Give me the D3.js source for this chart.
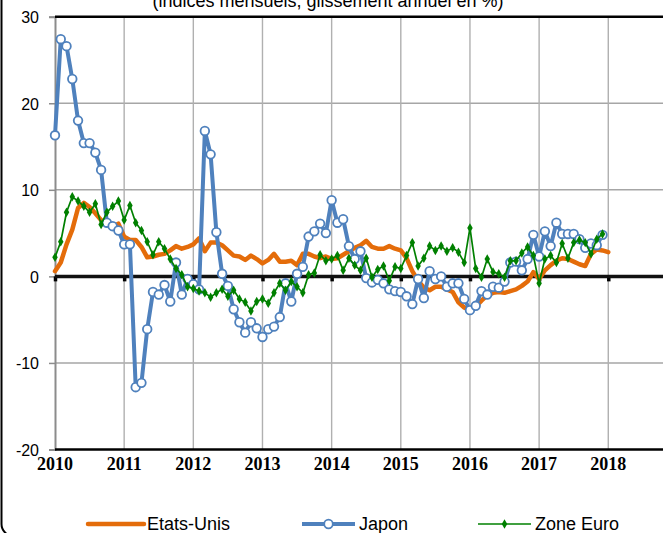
<!DOCTYPE html>
<html>
<head>
<meta charset="utf-8">
<script src="https://cdn.jsdelivr.net/npm/d3@7"></script>
<style>
  body { margin:0; background:#fff; }
  svg { display:block; }
</style>
</head>
<body>
<svg id="chart"></svg>
<script>
// valeurs mensuelles (glissement annuel en %), depuis janvier 2010
var etatsUnis = [
  0.6, 1.6, 3.7, 5.4, 7.9, 8.5, 8.0, 7.3, 6.5, 6.0, 5.7, 6.1,
  4.6, 4.2, 4.2, 3.4, 2.2, 2.3, 2.5, 2.6, 3.0, 3.5, 3.2, 3.4,
  3.7, 4.4, 2.9, 3.9, 3.9, 3.6, 3.0, 2.4, 2.3, 1.9, 2.4, 2.0,
  1.5, 1.9, 2.6, 1.7, 1.7, 1.8, 1.3, 2.6, 2.6, 2.3, 2.1, 2.3,
  2.0, 2.1, 2.5, 2.9, 3.3, 3.6, 4.1, 3.4, 3.2, 3.2, 3.5, 3.2,
  3.0, 2.1, 0.6, -0.5, -1.3, -1.6, -1.2, -1.2, -1.5, -1.8, -3.0, -3.6,
  -3.8, -3.5, -2.8, -2.2, -1.9, -1.8, -1.9, -1.7, -1.5, -1.1, -0.6, 0.5,
  -0.3, 0.7, 1.3, 1.8, 2.1, 2.0, 1.7, 1.4, 1.2, 2.6, 3.1, 3.0,
  2.8
];
var japon = [
  16.3, 27.4, 26.6, 22.8, 18.0, 15.4, 15.4, 14.3, 12.3, 6.2, 5.8, 5.3,
  3.7, 3.7, -12.8, -12.3, -6.1, -1.8, -2.1, -1.0, -2.9, 1.6, -2.1, -0.3,
  -0.9, -1.5, 16.8, 14.1, 5.1, 0.3, -1.1, -3.8, -5.3, -6.5, -5.3, -6.0,
  -7.0, -6.1, -5.8, -4.7, -0.8, -2.9, 0.3, 1.1, 4.6, 5.2, 6.1, 5.0,
  8.8, 6.2, 6.6, 3.5, 2.0, 2.9, -0.2, -0.7, -0.4, -0.8, -1.5, -1.7,
  -1.8, -2.3, -3.2, -0.3, -2.5, 0.6, -0.3, 0.0, -1.2, -0.8, -0.8, -2.6,
  -3.9, -3.4, -1.7, -2.1, -1.2, -1.3, -0.6, 1.6, 1.7, 0.7, 2.0, 4.8,
  2.3, 5.2, 3.5, 6.2, 4.9, 4.9, 4.9, 4.3, 3.3, 3.8, 3.6, 4.8
];
var zoneEuro = [
  2.2, 4.0, 7.4, 9.2, 8.7, 8.1, 7.4, 8.4, 6.0, 7.4, 8.1, 8.7,
  6.5, 8.2, 6.2, 5.3, 4.0, 2.5, 4.0, 3.2, 2.0, 0.9, 0.2, -1.2,
  -1.4, -1.7, -1.9, -2.4, -1.9, -1.5, -2.3, -1.6, -2.6, -3.0, -4.0, -2.9,
  -2.6, -3.1, -1.9, -0.8, -1.6, -0.6, -1.2, -1.9, 0.2, 0.4, 2.5, 1.8,
  2.0, 2.4, 0.7, 2.1, 1.3, 0.7, 2.1, -0.1, 0.8, 1.2, -0.5, 1.1,
  0.9, 2.4, 3.9, 1.2, 2.1, 3.5, 3.0, 3.5, 2.9, 3.3, 2.8, 1.6,
  5.6, 0.9, -0.1, 2.0, 0.5, 0.3, -0.1, 1.8, 1.8, 2.7, 3.4, 2.4,
  -0.8, 2.0, 2.4, 1.6, 3.8, 2.1, 3.9, 4.2, 3.9, 2.6, 4.3, 4.9
];
var annees = [2010, 2011, 2012, 2013, 2014, 2015, 2016, 2017, 2018];
var yTicks = [-20, -10, 0, 10, 20, 30];
var series = ["Etats-Unis", "Japon", "Zone Euro"];
var titre = "(indices mensuels, glissement annuel en %)";

var couleurs = {"Etats-Unis":"#E46C0A", "Japon":"#4F81BD", "Zone Euro":"#008000"};

var screen = {width:663, height:533};

var svg = d3.select("#chart")
    .attr("width", screen.width)
    .attr("height", screen.height)
    .style("font-family", "Arial, 'Liberation Sans', sans-serif");

// cadre du graphique (coin arrondi visible en bas a gauche)
svg.append("rect")
    .attr("x", 1.5).attr("y", -30)
    .attr("width", 720).attr("height", 566)
    .attr("rx", 12)
    .style("fill", "none")
    .style("stroke", "#000")
    .style("stroke-width", 2);

var xScale = d3.scaleLinear()
    .domain([2010, 2019])
    .range([55, 55 + 9 * 69.16]);

var yScale = d3.scaleLinear()
    .domain([-20, 30])
    .range([449.5, 16.7]);

var moisX = function(d, i) { return xScale(2010 + i / 12); };

// titre (coupe en haut, comme l'original)
svg.append("text")
    .attr("x", 328).attr("y", 7)
    .attr("text-anchor", "middle")
    .style("font-size", "18px")
    .text(titre);

// grille horizontale
svg.append("g")
    .selectAll("line")
    .data(yTicks.filter(function(d){ return d != 0 && d != 30 && d != -20; }))
    .enter()
    .append("line")
    .attr("x1", xScale(2010)).attr("x2", screen.width + 20)
    .attr("y1", function(d){ return yScale(d); })
    .attr("y2", function(d){ return yScale(d); })
    .style("stroke", "#a6a6a6")
    .style("stroke-width", 1.4);

// grille verticale
svg.append("g")
    .selectAll("line")
    .data(annees.slice(1))
    .enter()
    .append("line")
    .attr("x1", function(d){ return xScale(d); })
    .attr("x2", function(d){ return xScale(d); })
    .attr("y1", yScale(30)).attr("y2", yScale(-20))
    .style("stroke", "#b0b0b0")
    .style("stroke-width", 1.4);

// axe vertical
var yAxis = d3.axisLeft(yScale)
    .tickValues(yTicks)
    .tickFormat(function(d){ return String(d); })
    .tickSize(6).tickPadding(10);
var gy = svg.append("g")
    .attr("transform", "translate(" + xScale(2010) + ",0)")
    .call(yAxis);
gy.select(".domain").style("stroke", "#8c8c8c").style("stroke-width", 2);
gy.selectAll(".tick line").style("stroke", "#8c8c8c").style("stroke-width", 1.5);
gy.selectAll(".tick text")
    .style("font-size", "16px")
    .style("font-family", "Arial, 'Liberation Sans', sans-serif")
    .style("fill", "#000")
    .attr("dy", "0.36em");

// bords haut et bas
svg.append("line")
    .attr("x1", xScale(2010)).attr("x2", screen.width + 20)
    .attr("y1", yScale(30)).attr("y2", yScale(30))
    .style("stroke", "#000").style("stroke-width", 2.5);
svg.append("line")
    .attr("x1", xScale(2010)).attr("x2", screen.width + 20)
    .attr("y1", yScale(-20)).attr("y2", yScale(-20))
    .style("stroke", "#000").style("stroke-width", 2.5);

// axe horizontal sur zero
var xAxis = d3.axisBottom(xScale).tickValues(annees).tickSize(5).tickFormat("");
var gx = svg.append("g")
    .attr("transform", "translate(0," + yScale(0) + ")")
    .call(xAxis);
gx.select(".domain").remove();
gx.selectAll(".tick line").style("stroke", "#000").style("stroke-width", 3.5);
svg.append("line")
    .attr("x1", xScale(2010)).attr("x2", screen.width + 20)
    .attr("y1", yScale(0)).attr("y2", yScale(0))
    .style("stroke", "#111").style("stroke-width", 3.5);

// etiquettes des annees
svg.append("g")
    .selectAll("text")
    .data(annees)
    .enter()
    .append("text")
    .attr("x", function(d){ return xScale(d); })
    .attr("y", 470)
    .attr("text-anchor", "middle")
    .style("font-family", "'Liberation Serif', 'Times New Roman', serif")
    .style("font-weight", "bold")
    .style("font-size", "18px")
    .text(function(d){ return d; });

var ligne = d3.line()
    .x(moisX)
    .y(function(d){ return yScale(d); });

// Etats-Unis
svg.append("path")
    .datum(etatsUnis)
    .attr("d", ligne)
    .style("fill", "none")
    .style("stroke", couleurs["Etats-Unis"])
    .style("stroke-width", 4.5)
    .style("stroke-linejoin", "round")
    .style("stroke-linecap", "round");

// Japon
svg.append("path")
    .datum(japon)
    .attr("d", ligne)
    .style("fill", "none")
    .style("stroke", couleurs["Japon"])
    .style("stroke-width", 4)
    .style("stroke-linejoin", "round");
svg.append("g")
    .selectAll("circle")
    .data(japon)
    .enter()
    .append("circle")
    .attr("cx", moisX)
    .attr("cy", function(d){ return yScale(d); })
    .attr("r", 4.3)
    .style("fill", "#fff")
    .style("stroke", couleurs["Japon"])
    .style("stroke-width", 1.8);

// Zone Euro
svg.append("path")
    .datum(zoneEuro)
    .attr("d", ligne)
    .style("fill", "none")
    .style("stroke", couleurs["Zone Euro"])
    .style("stroke-width", 1.7);
var diamant = d3.symbol().type(d3.symbolDiamond).size(26);
svg.append("g")
    .selectAll("path")
    .data(zoneEuro)
    .enter()
    .append("path")
    .attr("d", diamant)
    .attr("transform", function(d, i){ return "translate(" + moisX(d, i) + "," + yScale(d) + ")"; })
    .style("fill", couleurs["Zone Euro"]);

// legende
var legende = [
  {nom:series[0], x1:88, x2:144, tx:147},
  {nom:series[1], x1:302, x2:355, tx:359},
  {nom:series[2], x1:478, x2:531, tx:535}
];
var ly = 524;
legende.forEach(function(l)
{
    var g = svg.append("g");
    g.append("line")
        .attr("x1", l.x1).attr("x2", l.x2)
        .attr("y1", ly).attr("y2", ly)
        .style("stroke", couleurs[l.nom])
        .style("stroke-width", l.nom == "Etats-Unis" ? 4.5 : (l.nom == "Japon" ? 4 : 1.7))
        .style("stroke-linecap", l.nom == "Etats-Unis" ? "round" : "butt");
    if (l.nom == "Japon")
    {
        g.append("circle")
            .attr("cx", (l.x1 + l.x2) / 2).attr("cy", ly).attr("r", 4.3)
            .style("fill", "#fff").style("stroke", couleurs[l.nom]).style("stroke-width", 1.8);
    }
    if (l.nom == "Zone Euro")
    {
        g.append("path")
            .attr("d", diamant)
            .attr("transform", "translate(" + (l.x1 + l.x2) / 2 + "," + ly + ")")
            .style("fill", couleurs[l.nom]);
    }
    g.append("text")
        .attr("x", l.tx).attr("y", 530)
        .style("font-size", "18px")
        .text(l.nom);
});
</script>
</body>
</html>
